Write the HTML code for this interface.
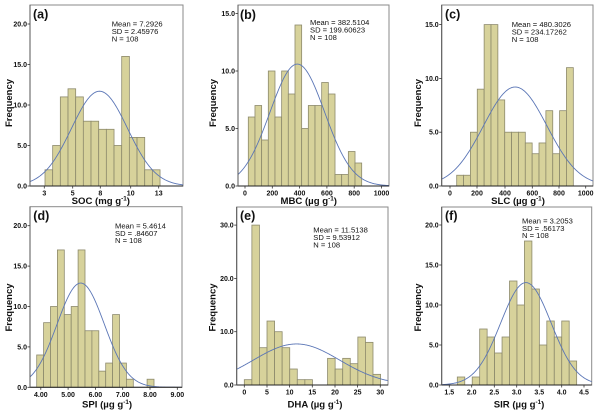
<!DOCTYPE html>
<html><head><meta charset="utf-8">
<style>
html,body{margin:0;padding:0;background:#fff;}
svg{display:block;font-family:"Liberation Sans",Arial,sans-serif;}
</style></head><body>
<svg id="s" width="600" height="415" viewBox="0 0 600 415" xmlns="http://www.w3.org/2000/svg"></svg>
<script>
const P=[
{L:30,R:183,T:5,B:186,ppu:8.1,yt:[0,5,10,15,20],
 xt:[[44.3,'3'],[72.7,'5'],[100.3,'8'],[130.7,'10'],[158.7,'13']],
 bx:45,bw:7.67,h:[2,5,11,12,11,8,8,7,7,5,16,6,6,2,2],
 mu:99.5,sd:28.1,pk:11.7,lab:'(a)',lx:33,ly:18.5,
 st:['Mean = 7.2926','SD = 2.45976','N = 108'],sx:111.7,sy:24,
 xl:'SOC (mg g',xc:100.8,xb:204,fx:12,fy:103},
{L:238,R:389,T:5,B:186,ppu:11.5,yt:[0,5,10,15],
 xt:[[245,'0'],[272.3,'200'],[299.6,'400'],[326.9,'600'],[354.2,'800'],[381.5,'1000']],
 bx:248.3,bw:6.67,h:[6,7,4,10,6,10,8,14,5,7,7,9,8,1,1,3,2],
 mu:297.3,sd:27.3,pk:10.6,lab:'(b)',lx:240,ly:19,
 st:['Mean = 382.5104','SD = 199.60623','N = 108'],sx:310,sy:22.3,
 xl:'MBC (\u00b5g g',xc:308.7,xb:204,fx:216,fy:103},
{L:441.7,R:593,T:5,B:186,ppu:10.76,yt:[0,5,10,15],
 xt:[[450,'0'],[477,'200'],[505,'400'],[532.3,'600'],[559,'800'],[585.7,'1000']],
 bx:456.7,bw:6.86,h:[1,1,5,9,15,15,8,5,5,5,4,3,4,7,3,7,11],
 mu:515.2,sd:31.8,pk:9.2,lab:'(c)',lx:445,ly:18.5,
 st:['Mean = 480.3026','SD = 234.17262','N = 108'],sx:511.7,sy:24.3,
 xl:'SLC (\u00b5g g',xc:518,xb:204,fx:421,fy:103},
{L:30,R:182,T:206.7,B:387.3,ppu:8.08,yt:[0,5,10,15,20],
 xt:[[40.8,'4.00'],[68.1,'5.00'],[95.4,'6.00'],[122.7,'7.00'],[150,'8.00'],[177.3,'9.00']],
 bx:36.7,bw:6.9,h:[4,8,10,17,9,10,17,7,7,2,3,9,3,1,0,0,1],
 mu:80.7,sd:23.6,pk:12.9,lab:'(d)',lx:33.3,ly:220,
 st:['Mean = 5.4614','SD = .84607','N = 108'],sx:115,sy:225.7,
 xl:'SPI (\u00b5g g',xc:107,xb:407.5,fx:12,fy:307.5},
{L:236.7,R:388,T:207,B:385,ppu:5.33,yt:[0,10,20,30],
 xt:[[244.3,'0'],[267,'5'],[289.6,'10'],[312.3,'15'],[335,'20'],[357.6,'25'],[380.3,'30']],
 bx:244.3,bw:7.57,h:[1,30,7,12,10,7,3,1,1,0,0,5,3,5,4,9,8,2],
 mu:296.5,sd:43.2,pk:7.7,lab:'(e)',lx:240,ly:220,
 st:['Mean = 11.5138','SD = 9.53912','N = 108'],sx:313.3,sy:230,
 xl:'DHA (\u00b5g g',xc:315,xb:407.5,fx:215.5,fy:307.5},
{L:441.7,R:591.7,T:207,B:385,ppu:8,yt:[0,5,10,15,20],
 xt:[[449.3,'1.5'],[471.7,'2.0'],[494.3,'2.5'],[516.7,'3.0'],[539.3,'3.5'],[561.7,'4.0'],[584,'4.5']],
 bx:457.3,bw:7.46,h:[1,0,1,7,6,4,6,13,10,18,12,5,8,6,8,3],
 mu:525.9,sd:25.2,pk:12.8,lab:'(f)',lx:445,ly:220,
 st:['Mean = 3.2053','SD = .56173','N = 108'],sx:522,sy:220.7,
 xl:'SIR (\u00b5g g',xc:519,xb:407.5,fx:421,fy:307.5}
];
let o='';
P.forEach((p,k)=>{
  o+=`<clipPath id="c${k}"><rect x="${p.L}" y="${p.T}" width="${p.R-p.L}" height="${p.B-p.T}"/></clipPath>`;
  o+=`<rect x="${p.L}" y="${p.T}" width="${p.R-p.L}" height="${p.B-p.T}" fill="#fff" stroke="#8a8a8a" stroke-width="1"/>`;
  // bars
  p.h.forEach((v,i)=>{
    if(v<=0)return;
    const x=p.bx+i*p.bw, hh=v*p.ppu;
    o+=`<rect x="${x.toFixed(2)}" y="${(p.B-hh).toFixed(2)}" width="${p.bw.toFixed(2)}" height="${hh.toFixed(2)}" fill="#d7d29b" stroke="#8d8a6c" stroke-width="0.8"/>`;
  });
  // curve
  let d='';
  for(let x=p.L;x<=p.R+0.01;x+=0.5){
    const z=(x-p.mu)/p.sd;
    const y=p.B-p.pk*p.ppu*Math.exp(-0.5*z*z);
    d+=(d?'L':'M')+x.toFixed(2)+','+y.toFixed(2);
  }
  o+=`<path d="${d}" fill="none" stroke="#5b76b6" stroke-width="0.9" clip-path="url(#c${k})"/>`;
  // axes
  o+=`<line x1="${p.L}" y1="${p.B}" x2="${p.R}" y2="${p.B}" stroke="#222" stroke-width="1"/>`;
  o+=`<line x1="${p.L}" y1="${p.T}" x2="${p.L}" y2="${p.B}" stroke="#555" stroke-width="1"/>`;
  p.yt.forEach(v=>{
    const y=p.B-v*p.ppu;
    o+=`<line x1="${p.L-2.5}" y1="${y}" x2="${p.L}" y2="${y}" stroke="#333" stroke-width="0.8"/>`;
    o+=`<text x="${p.L-3}" y="${(y+2.5).toFixed(2)}" font-size="7" font-weight="bold" text-anchor="end" fill="#111">${v.toFixed(1)}</text>`;
  });
  p.xt.forEach(t=>{
    o+=`<line x1="${t[0]}" y1="${p.B}" x2="${t[0]}" y2="${p.B+2.5}" stroke="#333" stroke-width="0.8"/>`;
    o+=`<text x="${t[0]}" y="${p.B+9.5}" font-size="7" font-weight="bold" text-anchor="middle" fill="#111">${t[1]}</text>`;
  });
  // panel label
  o+=`<text x="${p.lx}" y="${p.ly}" font-size="12.5" font-weight="bold" fill="#111">${p.lab}</text>`;
  // stats
  p.st.forEach((s,i)=>{
    o+=`<text x="${p.sx}" y="${(p.sy+2.7+i*7.4).toFixed(2)}" font-size="7.6" fill="#111">${s}</text>`;
  });
  // y label
  o+=`<text transform="translate(${p.fx},${p.fy}) rotate(-90)" x="0" y="0" font-size="9.5" font-weight="bold" text-anchor="middle" fill="#111">Frequency</text>`;
  // x label
  o+=`<text x="${p.xc}" y="${p.xb}" font-size="9.6" font-weight="bold" text-anchor="middle" fill="#111">${p.xl}<tspan font-size="6.3" dy="-3.6">-1</tspan><tspan dy="3.6">)</tspan></text>`;
});
document.getElementById('s').innerHTML=o;
</script>
</body></html>
